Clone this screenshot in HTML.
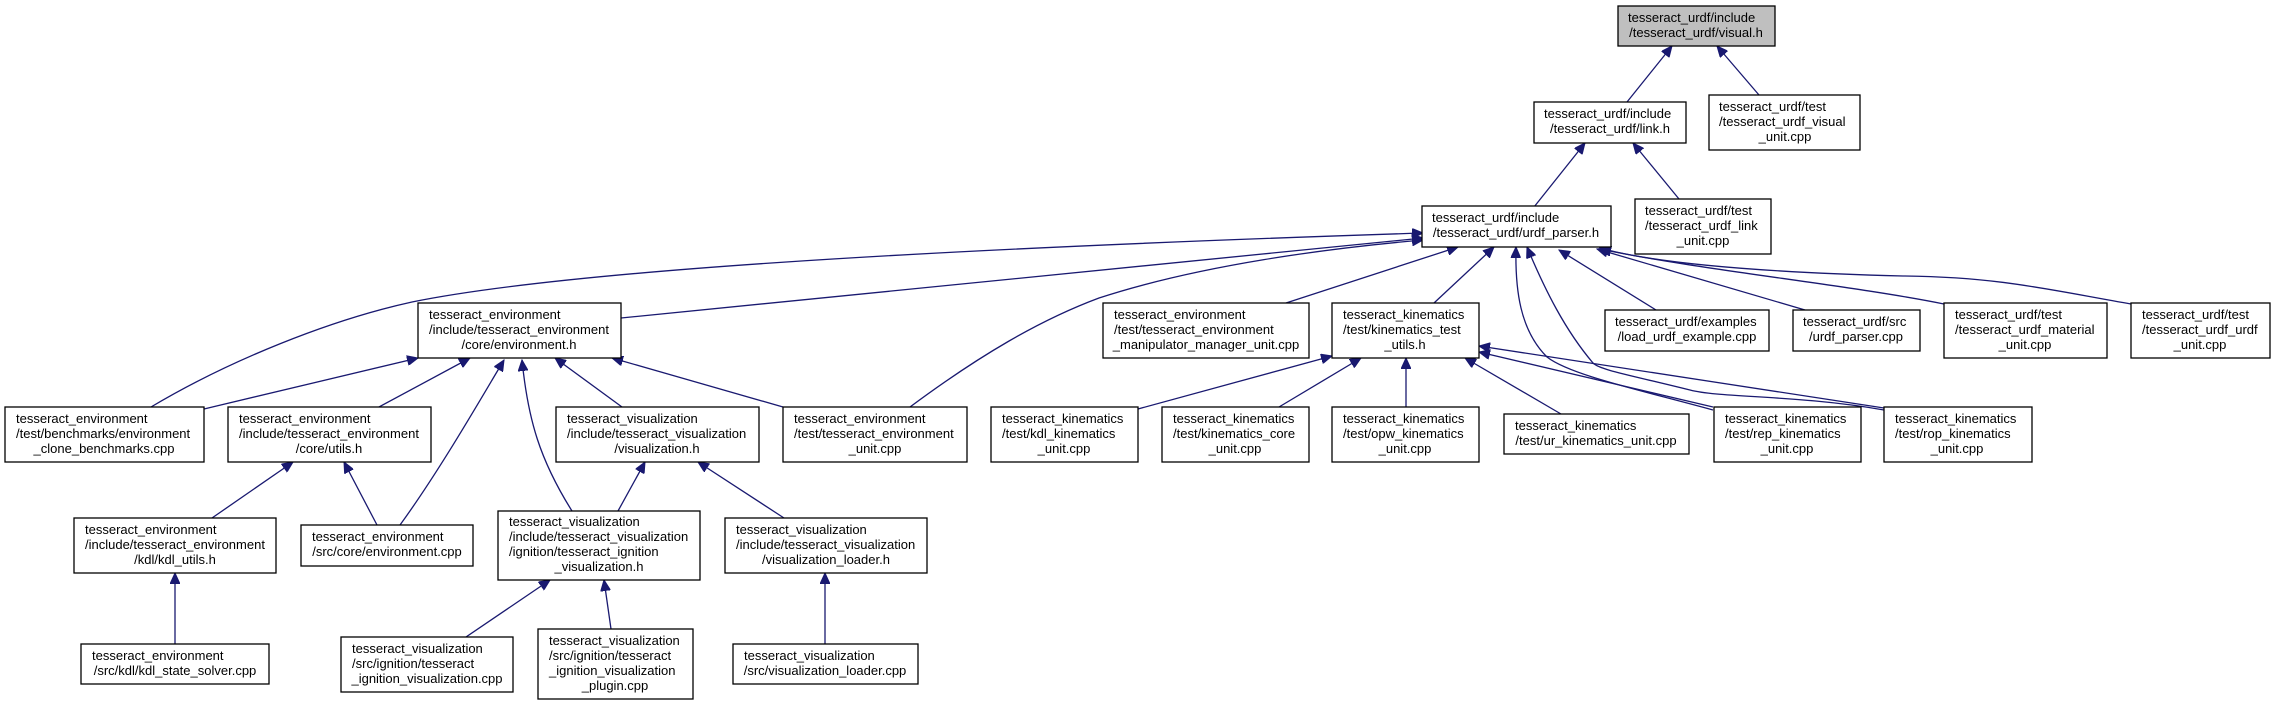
<!DOCTYPE html>
<html><head><meta charset="utf-8"><style>
html,body{margin:0;padding:0;background:#fff;}
svg{display:block;}
text{font-family:"Liberation Sans",Arial,sans-serif;font-size:13px;fill:#000;}
.b{fill:#fff;stroke:#000;stroke-width:1.3;}
.e{fill:none;stroke:#191970;stroke-width:1.3;}
</style></head><body>
<svg width="2275" height="705" viewBox="0 0 2275 705" xmlns="http://www.w3.org/2000/svg">
<defs><marker id="a" markerUnits="userSpaceOnUse" markerWidth="12" markerHeight="10" refX="11" refY="5" orient="auto"><path d="M0,0 L11,5 L0,10 z" fill="#191970" stroke="#191970"/></marker></defs>
<g marker-end="url(#a)">
<path class="e" d="M1627,102 L1672,46"/>
<path class="e" d="M1759,95 L1717,46"/>
<path class="e" d="M1534,207 L1585,143"/>
<path class="e" d="M1679,199 L1633,143"/>
<path class="e" d="M151,407 C230,360 330,320 412,302 C560,272 900,250 1423,233"/>
<path class="e" d="M621,318 L1423,238"/>
<path class="e" d="M910,407 C980,355 1040,320 1099,298 C1200,265 1330,248 1423,240"/>
<path class="e" d="M1286,303 L1458,247"/>
<path class="e" d="M1434,303 L1494,247"/>
<path class="e" d="M1713,410 C1640,390 1570,375 1547,357 C1520,330 1515,290 1516,247"/>
<path class="e" d="M1884,410 C1800,395 1720,398 1690,390 C1630,375 1600,370 1593,363 C1565,330 1545,290 1527,247"/>
<path class="e" d="M1656,310 L1559,250"/>
<path class="e" d="M1805,310 L1597,249"/>
<path class="e" d="M1944,304 C1850,285 1700,270 1600,249"/>
<path class="e" d="M2131,304 C2050,290 2000,277 1903,276 C1750,272 1650,262 1600,248"/>
<path class="e" d="M204,409 L418,358"/>
<path class="e" d="M379,407 L470,358"/>
<path class="e" d="M400,525 C440,470 480,400 504,360"/>
<path class="e" d="M572,511 C540,460 528,420 522,360"/>
<path class="e" d="M622,407 L555,358"/>
<path class="e" d="M783,407 L612,358"/>
<path class="e" d="M212,518 L293,462"/>
<path class="e" d="M377,525 L344,462"/>
<path class="e" d="M175,644 L175,573"/>
<path class="e" d="M618,511 L645,462"/>
<path class="e" d="M784,518 L698,462"/>
<path class="e" d="M466,637 L550,580"/>
<path class="e" d="M611,629 L604,580"/>
<path class="e" d="M825,644 L825,573"/>
<path class="e" d="M1138,409 L1332,356"/>
<path class="e" d="M1279,407 L1361,358"/>
<path class="e" d="M1406,407 L1406,358"/>
<path class="e" d="M1561,414 L1465,358"/>
<path class="e" d="M1713,407 L1479,352"/>
<path class="e" d="M1884,408 L1479,346"/>
</g>
<rect x="1618" y="6" width="157" height="40" fill="#bfbfbf" stroke="#000" stroke-width="1.3"/>
<text x="1628" y="22">tesseract_urdf/include</text><text x="1696" y="37" text-anchor="middle">/tesseract_urdf/visual.h</text>
<rect class="b" x="1534" y="102" width="152" height="41"/>
<text x="1544" y="118">tesseract_urdf/include</text><text x="1610" y="133" text-anchor="middle">/tesseract_urdf/link.h</text>
<rect class="b" x="1709" y="95" width="151" height="55"/>
<text x="1719" y="111">tesseract_urdf/test</text><text x="1719" y="126">/tesseract_urdf_visual</text><text x="1785" y="141" text-anchor="middle">_unit.cpp</text>
<rect class="b" x="1422" y="206" width="189" height="41"/>
<text x="1432" y="222">tesseract_urdf/include</text><text x="1516" y="237" text-anchor="middle">/tesseract_urdf/urdf_parser.h</text>
<rect class="b" x="1635" y="199" width="136" height="55"/>
<text x="1645" y="215">tesseract_urdf/test</text><text x="1645" y="230">/tesseract_urdf_link</text><text x="1703" y="245" text-anchor="middle">_unit.cpp</text>
<rect class="b" x="418" y="303" width="203" height="55"/>
<text x="429" y="319">tesseract_environment</text><text x="429" y="334">/include/tesseract_environment</text><text x="519" y="349" text-anchor="middle">/core/environment.h</text>
<rect class="b" x="1103" y="303" width="206" height="55"/>
<text x="1114" y="319">tesseract_environment</text><text x="1114" y="334">/test/tesseract_environment</text><text x="1206" y="349" text-anchor="middle">_manipulator_manager_unit.cpp</text>
<rect class="b" x="1332" y="303" width="147" height="55"/>
<text x="1343" y="319">tesseract_kinematics</text><text x="1343" y="334">/test/kinematics_test</text><text x="1405" y="349" text-anchor="middle">_utils.h</text>
<rect class="b" x="1605" y="310" width="164" height="41"/>
<text x="1615" y="326">tesseract_urdf/examples</text><text x="1687" y="341" text-anchor="middle">/load_urdf_example.cpp</text>
<rect class="b" x="1793" y="310" width="127" height="41"/>
<text x="1803" y="326">tesseract_urdf/src</text><text x="1856" y="341" text-anchor="middle">/urdf_parser.cpp</text>
<rect class="b" x="1944" y="303" width="163" height="55"/>
<text x="1955" y="319">tesseract_urdf/test</text><text x="1955" y="334">/tesseract_urdf_material</text><text x="2025" y="349" text-anchor="middle">_unit.cpp</text>
<rect class="b" x="2131" y="303" width="139" height="55"/>
<text x="2142" y="319">tesseract_urdf/test</text><text x="2142" y="334">/tesseract_urdf_urdf</text><text x="2200" y="349" text-anchor="middle">_unit.cpp</text>
<rect class="b" x="5" y="407" width="199" height="55"/>
<text x="16" y="423">tesseract_environment</text><text x="16" y="438">/test/benchmarks/environment</text><text x="104" y="453" text-anchor="middle">_clone_benchmarks.cpp</text>
<rect class="b" x="228" y="407" width="203" height="55"/>
<text x="239" y="423">tesseract_environment</text><text x="239" y="438">/include/tesseract_environment</text><text x="329" y="453" text-anchor="middle">/core/utils.h</text>
<rect class="b" x="556" y="407" width="203" height="55"/>
<text x="567" y="423">tesseract_visualization</text><text x="567" y="438">/include/tesseract_visualization</text><text x="657" y="453" text-anchor="middle">/visualization.h</text>
<rect class="b" x="783" y="407" width="184" height="55"/>
<text x="794" y="423">tesseract_environment</text><text x="794" y="438">/test/tesseract_environment</text><text x="875" y="453" text-anchor="middle">_unit.cpp</text>
<rect class="b" x="991" y="407" width="147" height="55"/>
<text x="1002" y="423">tesseract_kinematics</text><text x="1002" y="438">/test/kdl_kinematics</text><text x="1064" y="453" text-anchor="middle">_unit.cpp</text>
<rect class="b" x="1162" y="407" width="147" height="55"/>
<text x="1173" y="423">tesseract_kinematics</text><text x="1173" y="438">/test/kinematics_core</text><text x="1235" y="453" text-anchor="middle">_unit.cpp</text>
<rect class="b" x="1332" y="407" width="147" height="55"/>
<text x="1343" y="423">tesseract_kinematics</text><text x="1343" y="438">/test/opw_kinematics</text><text x="1405" y="453" text-anchor="middle">_unit.cpp</text>
<rect class="b" x="1504" y="414" width="185" height="40"/>
<text x="1515" y="430">tesseract_kinematics</text><text x="1596" y="445" text-anchor="middle">/test/ur_kinematics_unit.cpp</text>
<rect class="b" x="1714" y="407" width="147" height="55"/>
<text x="1725" y="423">tesseract_kinematics</text><text x="1725" y="438">/test/rep_kinematics</text><text x="1787" y="453" text-anchor="middle">_unit.cpp</text>
<rect class="b" x="1884" y="407" width="148" height="55"/>
<text x="1895" y="423">tesseract_kinematics</text><text x="1895" y="438">/test/rop_kinematics</text><text x="1957" y="453" text-anchor="middle">_unit.cpp</text>
<rect class="b" x="74" y="518" width="202" height="55"/>
<text x="85" y="534">tesseract_environment</text><text x="85" y="549">/include/tesseract_environment</text><text x="175" y="564" text-anchor="middle">/kdl/kdl_utils.h</text>
<rect class="b" x="301" y="525" width="172" height="41"/>
<text x="312" y="541">tesseract_environment</text><text x="387" y="556" text-anchor="middle">/src/core/environment.cpp</text>
<rect class="b" x="498" y="511" width="202" height="69"/>
<text x="509" y="526">tesseract_visualization</text><text x="509" y="541">/include/tesseract_visualization</text><text x="509" y="556">/ignition/tesseract_ignition</text><text x="599" y="571" text-anchor="middle">_visualization.h</text>
<rect class="b" x="725" y="518" width="202" height="55"/>
<text x="736" y="534">tesseract_visualization</text><text x="736" y="549">/include/tesseract_visualization</text><text x="826" y="564" text-anchor="middle">/visualization_loader.h</text>
<rect class="b" x="81" y="644" width="188" height="40"/>
<text x="92" y="660">tesseract_environment</text><text x="175" y="675" text-anchor="middle">/src/kdl/kdl_state_solver.cpp</text>
<rect class="b" x="341" y="637" width="172" height="55"/>
<text x="352" y="653">tesseract_visualization</text><text x="352" y="668">/src/ignition/tesseract</text><text x="427" y="683" text-anchor="middle">_ignition_visualization.cpp</text>
<rect class="b" x="538" y="629" width="155" height="70"/>
<text x="549" y="645">tesseract_visualization</text><text x="549" y="660">/src/ignition/tesseract</text><text x="549" y="675">_ignition_visualization</text><text x="615" y="690" text-anchor="middle">_plugin.cpp</text>
<rect class="b" x="733" y="644" width="185" height="40"/>
<text x="744" y="660">tesseract_visualization</text><text x="825" y="675" text-anchor="middle">/src/visualization_loader.cpp</text>
</svg>
</body></html>
